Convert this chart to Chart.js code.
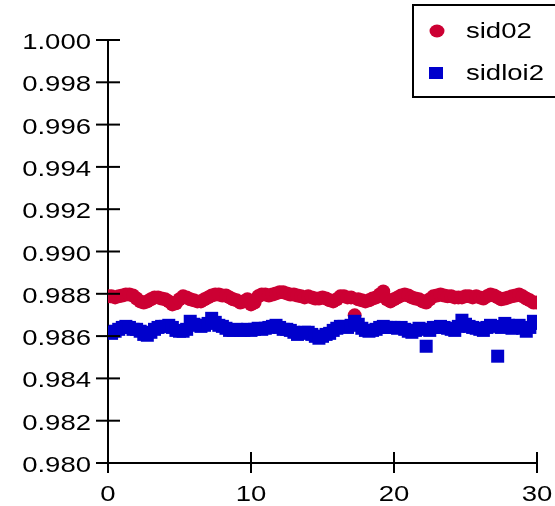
<!DOCTYPE html>
<html lang="en">
<head>
    <meta charset="UTF-8">
    <title>sid02 / sidloi2</title>
    <style>
        body {
            margin: 0;
            background: #fff;
        }

        #wrap {
            width: 555px;
            height: 506px;
        }
    </style>
</head>
<body>
    <div id="wrap"><canvas id="chart"></canvas></div>
    <script src="https://cdn.jsdelivr.net/npm/chart.js"></script>
    <script>
        // sample times (x)
        const times = [
            0, 0.25, 0.5, 0.75, 1, 1.25, 1.5, 1.75, 2, 2.25, 2.5, 2.75, 3, 3.25, 3.5, 3.75,
            4, 4.25, 4.5, 4.75, 5, 5.25, 5.5, 5.75, 6, 6.25, 6.5, 6.75, 7, 7.25, 7.5, 7.75,
            8, 8.25, 8.5, 8.75, 9, 9.25, 9.5, 9.75, 10, 10.25, 10.5, 10.75, 11, 11.25, 11.5, 11.75,
            12, 12.25, 12.5, 12.75, 13, 13.25, 13.5, 13.75, 14, 14.25, 14.5, 14.75, 15, 15.25, 15.5, 15.75,
            16, 16.25, 16.5, 16.75, 17, 17.25, 17.5, 17.75, 18, 18.25, 18.5, 18.75, 19, 19.25, 19.5, 19.75,
            20, 20.25, 20.5, 20.75, 21, 21.25, 21.5, 21.75, 22, 22.25, 22.5, 22.75, 23, 23.25, 23.5, 23.75,
            24, 24.25, 24.5, 24.75, 25, 25.25, 25.5, 25.75, 26, 26.25, 26.5, 26.75, 27, 27.25, 27.5, 27.75,
            28, 28.25, 28.5, 28.75, 29, 29.25, 29.5, 29.75, 30
        ];

        const sid02 = [
            0.98788, 0.98788, 0.98783, 0.98788, 0.98792, 0.98797, 0.98797, 0.98792, 0.98778, 0.98764, 0.98759, 0.98764, 0.98774, 0.98783, 0.98783, 0.98778,
            0.98774, 0.98764, 0.98750, 0.98755, 0.98774, 0.98788, 0.98783, 0.98774, 0.98769, 0.98764, 0.98764, 0.98774, 0.98783, 0.98792, 0.98797, 0.98797,
            0.98792, 0.98792, 0.98783, 0.98774, 0.98769, 0.98759, 0.98764, 0.98774, 0.98750, 0.98759, 0.98788, 0.98797, 0.98797, 0.98792, 0.98797, 0.98802,
            0.98807, 0.98807, 0.98802, 0.98797, 0.98797, 0.98792, 0.98788, 0.98783, 0.98788, 0.98783, 0.98778, 0.98778, 0.98783, 0.98778, 0.98769, 0.98764,
            0.98774, 0.98788, 0.98788, 0.98783, 0.98783, 0.98698, 0.98774, 0.98769, 0.98764, 0.98769, 0.98778, 0.98783, 0.98797, 0.98811, 0.98774, 0.98764,
            0.98774, 0.98783, 0.98792, 0.98797, 0.98792, 0.98783, 0.98778, 0.98774, 0.98764, 0.98759, 0.98774, 0.98788, 0.98792, 0.98797, 0.98792, 0.98788,
            0.98788, 0.98783, 0.98783, 0.98783, 0.98788, 0.98788, 0.98783, 0.98788, 0.98783, 0.98778, 0.98788, 0.98797, 0.98792, 0.98783, 0.98774, 0.98778,
            0.98783, 0.98788, 0.98792, 0.98797, 0.98788, 0.98778, 0.98769, 0.98759, 0.98759
        ];

        const sidloi2 = [
            0.98618, 0.98613, 0.98623, 0.98632, 0.98641, 0.98646, 0.98641, 0.98632, 0.98632, 0.98623, 0.98608, 0.98604, 0.98618, 0.98632, 0.98641, 0.98646,
            0.98646, 0.98651, 0.98641, 0.98627, 0.98623, 0.98623, 0.98632, 0.98670, 0.98656, 0.98651, 0.98646, 0.98651, 0.98660, 0.98684, 0.98665, 0.98651,
            0.98646, 0.98637, 0.98627, 0.98627, 0.98632, 0.98627, 0.98627, 0.98632, 0.98627, 0.98632, 0.98637, 0.98632, 0.98637, 0.98641, 0.98646, 0.98651,
            0.98641, 0.98632, 0.98632, 0.98627, 0.98618, 0.98608, 0.98613, 0.98618, 0.98618, 0.98608, 0.98599, 0.98590, 0.98599, 0.98608, 0.98613, 0.98627,
            0.98637, 0.98646, 0.98646, 0.98641, 0.98651, 0.98670, 0.98656, 0.98637, 0.98627, 0.98623, 0.98627, 0.98632, 0.98641, 0.98646, 0.98641, 0.98641,
            0.98641, 0.98637, 0.98641, 0.98632, 0.98623, 0.98618, 0.98627, 0.98637, 0.98632, 0.98552, 0.98627, 0.98641, 0.98641, 0.98646, 0.98641, 0.98637,
            0.98632, 0.98627, 0.98646, 0.98675, 0.98656, 0.98646, 0.98641, 0.98637, 0.98632, 0.98627, 0.98641, 0.98651, 0.98646, 0.98505, 0.98641, 0.98660,
            0.98651, 0.98637, 0.98646, 0.98651, 0.98637, 0.98623, 0.98641, 0.98670, 0.98660
        ];

        const xTickLabels = ['0', '10', '20', '30'];
        const yTickLabels = ['0.980', '0.982', '0.984', '0.986', '0.988', '0.990', '0.992', '0.994', '0.996', '0.998', '1.000'];

        const RED = 'rgb(204, 0, 51)';
        const BLUE = 'rgb(0, 0, 204)';
        const FONT = '22px "Liberation Sans", Arial, sans-serif';
        const STRETCH = 1.25; // wide lettering

        function wideText(ctx, text, x, y, align) {
            ctx.save();
            ctx.translate(x, y);
            ctx.scale(STRETCH, 1);
            ctx.textAlign = align;
            ctx.fillText(text, 0, 0);
            ctx.restore();
        }

        // tick marks crossing the axes + tick labels
        const axisMarks = {
            id: 'axisMarks',
            afterDraw(chart) {
                const { ctx, chartArea, scales } = chart;
                ctx.save();
                ctx.strokeStyle = '#000';
                ctx.fillStyle = '#000';
                ctx.lineWidth = 2;
                ctx.font = FONT;
                ctx.textBaseline = 'middle';

                yTickLabels.forEach(label => {
                    const py = scales.y.getPixelForValue(parseFloat(label));
                    ctx.beginPath();
                    ctx.moveTo(chartArea.left - 12, py);
                    ctx.lineTo(chartArea.left + 12, py);
                    ctx.stroke();
                    wideText(ctx, label, chartArea.left - 17, py + 3, 'right');
                });

                xTickLabels.forEach(label => {
                    const px = scales.x.getPixelForValue(parseFloat(label));
                    ctx.beginPath();
                    ctx.moveTo(px, chartArea.bottom - 11);
                    ctx.lineTo(px, chartArea.bottom + 10);
                    ctx.stroke();
                    wideText(ctx, label, px, chartArea.bottom + 32, 'center');
                });
                ctx.restore();
            }
        };

        // boxed legend in the top right corner
        const boxLegend = {
            id: 'boxLegend',
            afterDraw(chart) {
                const ctx = chart.ctx;
                ctx.save();
                ctx.fillStyle = '#fff';
                ctx.fillRect(413, 5, 150, 92);
                ctx.strokeStyle = '#000';
                ctx.lineWidth = 2;
                ctx.strokeRect(413, 5, 150, 92);

                ctx.font = FONT;
                ctx.textBaseline = 'middle';
                chart.data.datasets.forEach((ds, i) => {
                    const cy = 31 + i * 42;
                    ctx.fillStyle = ds.backgroundColor;
                    if (ds.pointStyle === 'rect') {
                        ctx.fillRect(429, cy - 6, 14, 12);
                    } else {
                        ctx.beginPath();
                        ctx.ellipse(437, cy, 7.5, 6.5, 0, 0, Math.PI * 2);
                        ctx.fill();
                    }
                    ctx.fillStyle = '#000';
                    wideText(ctx, ds.label, 466, cy + 1, 'left');
                });
                ctx.restore();
            }
        };

        function createChart() {
            const ctx = document.getElementById('chart').getContext('2d');
            new Chart(ctx, {
                type: 'scatter',
                data: {
                    datasets: [{
                        label: 'sid02',
                        data: times.map((t, i) => ({ x: t, y: sid02[i] })),
                        backgroundColor: RED,
                        borderWidth: 0,
                        pointStyle: 'circle',
                        pointRadius: 7,
                        order: 1
                    }, {
                        label: 'sidloi2',
                        data: times.map((t, i) => ({ x: t, y: sidloi2[i] })),
                        backgroundColor: BLUE,
                        borderWidth: 0,
                        pointStyle: 'rect',
                        pointRadius: 9.2,
                        order: 0
                    }]
                },
                options: {
                    responsive: true,
                    maintainAspectRatio: false,
                    animation: false,
                    layout: {
                        padding: { left: 108, right: 18, top: 40, bottom: 43 }
                    },
                    plugins: {
                        legend: { display: false },
                        tooltip: { enabled: false }
                    },
                    scales: {
                        x: {
                            type: 'linear',
                            min: 0,
                            max: 30,
                            ticks: { display: false },
                            grid: { display: false, drawTicks: false },
                            border: { display: true, color: '#000', width: 2 }
                        },
                        y: {
                            min: 0.98,
                            max: 1.0,
                            ticks: { display: false },
                            grid: { display: false, drawTicks: false },
                            border: { display: true, color: '#000', width: 2 }
                        }
                    }
                },
                plugins: [axisMarks, boxLegend]
            });
        }

        window.onload = createChart;
    </script>
</body>
</html>
